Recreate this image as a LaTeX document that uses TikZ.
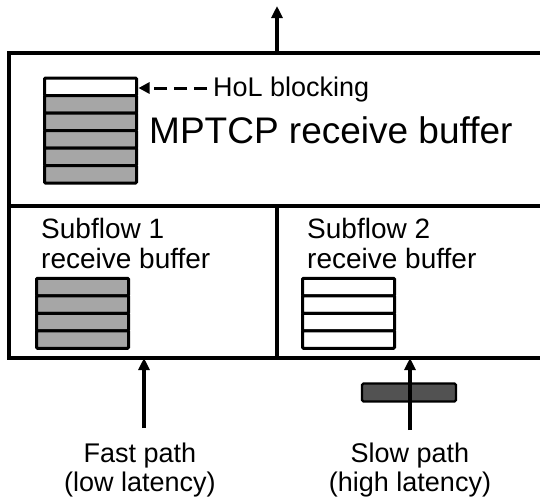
\documentclass[tikz,border=0pt]{standalone}
\usepackage{fontspec}
\setmainfont{Liberation Sans}
\usepackage{tikz}
\usetikzlibrary{arrows.meta, positioning}

\tikzset{
  cell/.style={draw, line width=3pt, rounded corners=1pt, minimum width=92pt,
               minimum height=17.5pt, inner sep=0pt, outer sep=0pt},
  full/.style={cell, fill=black!35},
  empty/.style={cell, fill=white},
  frame/.style={line width=4pt},
  flow/.style={line width=3.2pt, -{Triangle[width=11pt,length=12pt]}},
  lbl/.style={inner sep=0pt, font=\fontsize{28}{30}\selectfont}
}

\begin{document}
\begin{tikzpicture}[x=1pt, y=-1pt]
  \clip (0,0) rectangle (540,501);

  % outer receiver box (right side runs off the picture)
  \coordinate (tl) at (9,53);
  \coordinate (bl) at (9,358);
  \coordinate (ml) at (9,206);
  \coordinate (tr) at (560,53);
  \coordinate (br) at (560,358);
  \coordinate (mr) at (560,206);
  \coordinate (divtop) at (277,206);
  \coordinate (divbot) at (277,358);
  \draw[frame] (tr) -- (tl) -- (bl) -- (br);
  \draw[frame] (ml) -- (mr);
  \draw[frame] (divtop) -- (divbot);

  % MPTCP receive buffer
  \node[empty] (m1) at (90.5,86.75) {};
  \foreach \i [remember=\i as \j (initially 1)] in {2,...,6}
    \node[full, below=0pt of m\j] (m\i) {};
  \node[lbl, anchor=base west, font=\fontsize{37}{40}\selectfont] (mptcp) at (149,143) {MPTCP receive buffer};
  \node[lbl, anchor=base west, font=\fontsize{27}{30}\selectfont] (hol) at (213,96) {HoL blocking};
  \draw[line width=3pt, dash pattern=on 13pt off 7pt, -{Triangle[width=11pt,length=11pt]}]
    ([xshift=-6pt]hol.west |- 0,88) -- ([xshift=2pt]m1.east |- 0,88);

  % subflow buffers
  \node[lbl, anchor=north west, align=left] (sub1) at (41,218) {Subflow 1\\receive buffer};
  \node[lbl, anchor=north west, align=left] (sub2) at (307,218) {Subflow 2\\receive buffer};
  \node[full] (a1) at (82.5,287) {};
  \node[empty] (b1) at (348.5,287) {};
  \foreach \i [remember=\i as \j (initially 1)] in {2,3,4} {
    \node[full, below=0pt of a\j] (a\i) {};
    \node[empty, below=0pt of b\j] (b\i) {};
  }

  % output of the receiver
  \coordinate (outsrc) at (277,53);
  \coordinate (outdst) at (277,6);
  \draw[flow] (outsrc) -- (outdst);

  % incoming paths
  \coordinate (fastsrc) at (144,428);
  \coordinate (fastdst) at (144,358);
  \coordinate (slowsrc) at (410,430);
  \coordinate (slowdst) at (410,358);
  \node[draw, line width=2.4pt, rounded corners=1.5pt, fill=black!68, minimum width=94pt,
        minimum height=18pt, inner sep=0pt] (pkt) at (409,392.5) {};
  \draw[flow] (fastsrc) -- (fastdst);
  \draw[flow] (slowsrc) -- (slowdst);
  \node[lbl, align=center, font=\fontsize{27}{29}\selectfont, below=15pt of fastsrc, xshift=-4pt] (fast) {Fast path\\(low latency)};
  \node[lbl, align=center, font=\fontsize{27}{29}\selectfont, below=13pt of slowsrc] (slow) {Slow path\\(high latency)};
\end{tikzpicture}
\end{document}
